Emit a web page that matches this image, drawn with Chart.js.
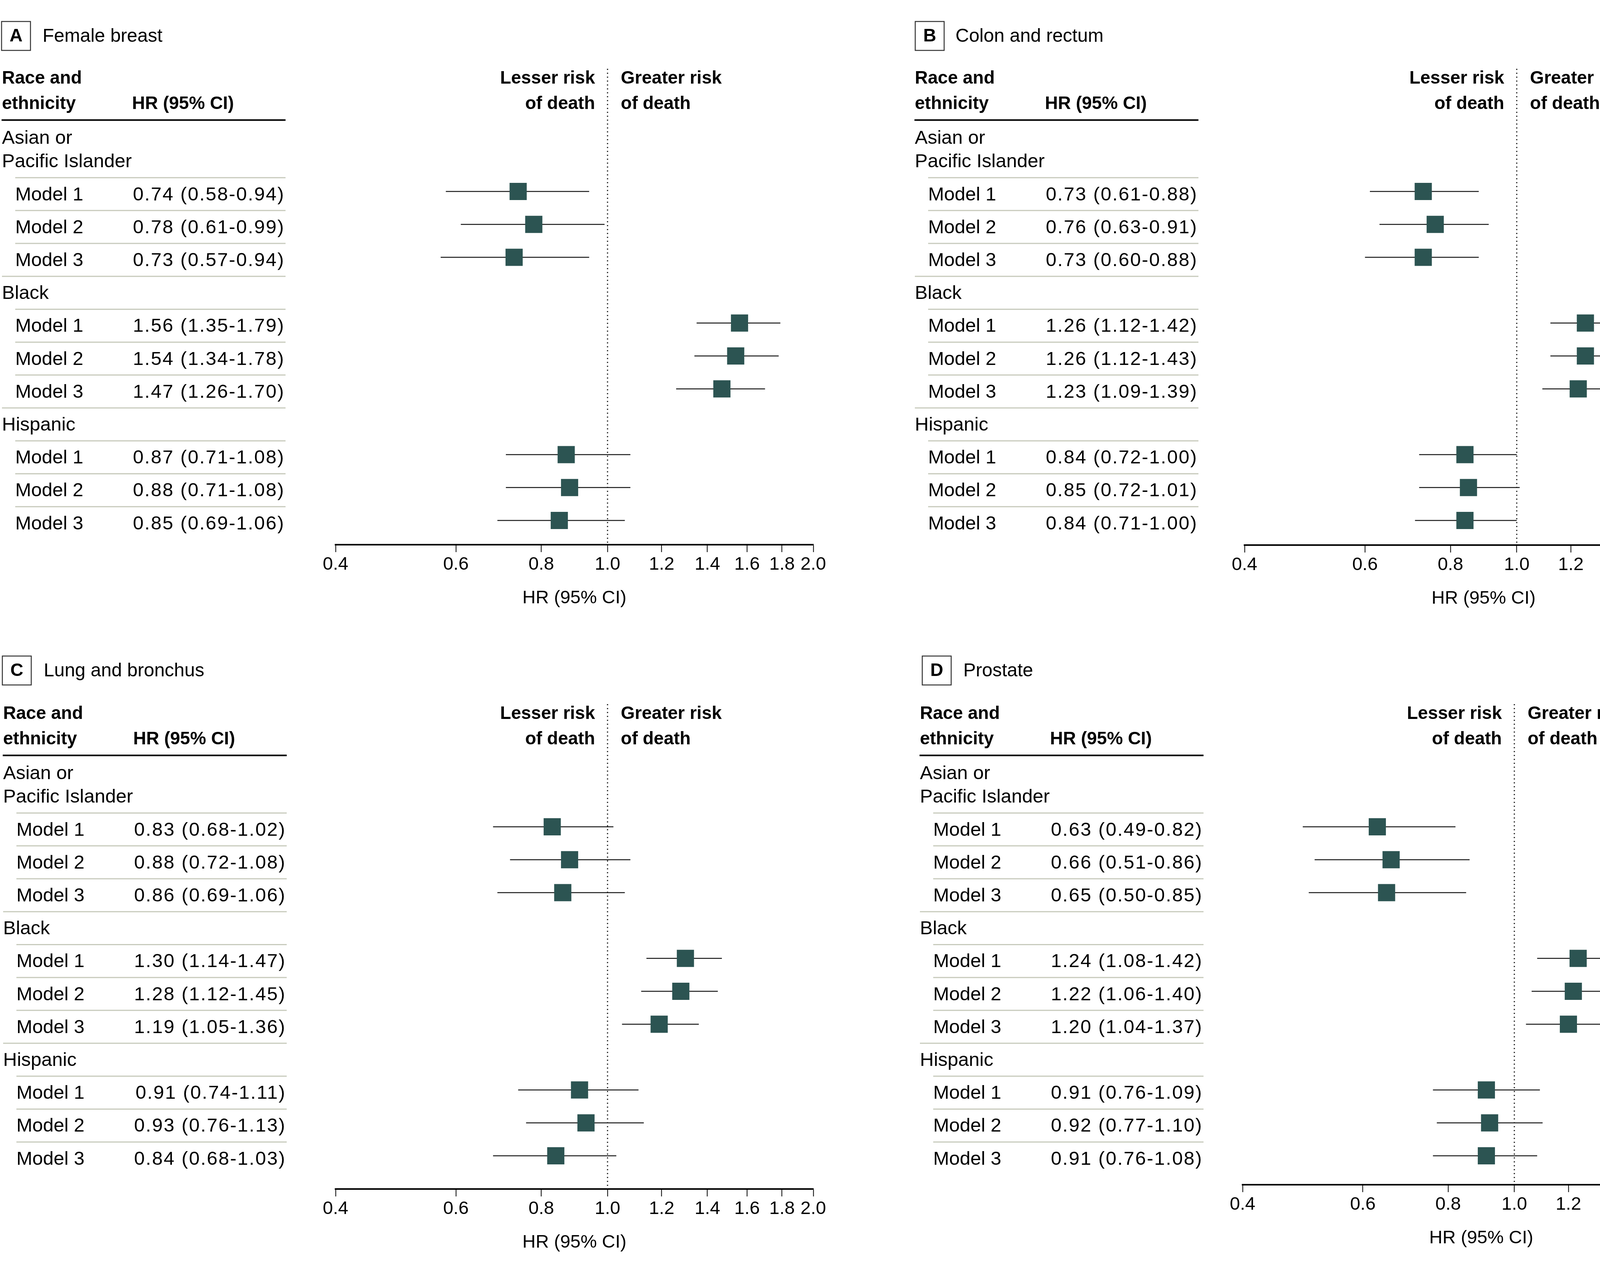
<!DOCTYPE html>
<html>
<head>
<meta charset="utf-8">
<script src="https://cdn.jsdelivr.net/npm/chart.js@4.4.1/dist/chart.umd.min.js"></script>
<style>
  html, body { margin: 0; padding: 0; background: #fff; }
  body { width: 5500px; height: 3281px; position: relative; overflow: hidden; }
  .panel { position: absolute; }
</style>
</head>
<body>
<div class="panel" style="left:0;top:0;width:2300px;height:1640px"><canvas id="chartA"></canvas></div>
<div class="panel" style="left:2300px;top:0;width:3200px;height:1640px"><canvas id="chartB"></canvas></div>
<div class="panel" style="left:0;top:1640px;width:2300px;height:1641px"><canvas id="chartC"></canvas></div>
<div class="panel" style="left:2300px;top:1640px;width:3200px;height:1641px"><canvas id="chartD"></canvas></div>
<script>
// ---- data ----
const groups = [["Asian or", "Pacific Islander"], ["Black"], ["Hispanic"]];
const models = ["Model 1", "Model 2", "Model 3"];
const xTicks = [0.4, 0.6, 0.8, 1.0, 1.2, 1.4, 1.6, 1.8, 2.0];
const headerLeft = ["Race and", "ethnicity"];
const headerHR = "HR (95% CI)";
const lesserLabel = ["Lesser risk", "of death"];
const greaterLabel = ["Greater risk", "of death"];
const axisTitle = "HR (95% CI)";

const breastHR   = [0.74, 0.78, 0.73, 1.56, 1.54, 1.47, 0.87, 0.88, 0.85];
const breastLow  = [0.58, 0.61, 0.57, 1.35, 1.34, 1.26, 0.71, 0.71, 0.69];
const breastHigh = [0.94, 0.99, 0.94, 1.79, 1.78, 1.70, 1.08, 1.08, 1.06];

const colonHR   = [0.73, 0.76, 0.73, 1.26, 1.26, 1.23, 0.84, 0.85, 0.84];
const colonLow  = [0.61, 0.63, 0.60, 1.12, 1.12, 1.09, 0.72, 0.72, 0.71];
const colonHigh = [0.88, 0.91, 0.88, 1.42, 1.43, 1.39, 1.00, 1.01, 1.00];

const lungHR   = [0.83, 0.88, 0.86, 1.30, 1.28, 1.19, 0.91, 0.93, 0.84];
const lungLow  = [0.68, 0.72, 0.69, 1.14, 1.12, 1.05, 0.74, 0.76, 0.68];
const lungHigh = [1.02, 1.08, 1.06, 1.47, 1.45, 1.36, 1.11, 1.13, 1.03];

const prostateHR   = [0.63, 0.66, 0.65, 1.24, 1.22, 1.20, 0.91, 0.92, 0.91];
const prostateLow  = [0.49, 0.51, 0.50, 1.08, 1.06, 1.04, 0.76, 0.77, 0.76];
const prostateHigh = [0.82, 0.86, 0.85, 1.42, 1.40, 1.37, 1.09, 1.10, 1.08];

// ---- layout (page pixels) ----
const PITCH = 84.2;      // row height
const TOP_GAP = 314;     // dotted line starts this far above first row
const AXIS_BOX = 165;    // height of x axis box
const SQUARE = "#2c5452";
const FONT = '"Liberation Sans", Arial, sans-serif';

const panels = [
  { canvas: "chartA", letter: "A", title: "Female breast", hr: breastHR, lo: breastLow, hi: breastHigh,
    left: 0, top: 0, w: 2300, h: 1640, boxX: 4, boxY: 55, titleX: 109, tableX: 4,
    axisL: 859, axisR: 2082, axisY: 1394, row0: 490 },
  { canvas: "chartB", letter: "B", title: "Colon and rectum", hr: colonHR, lo: colonLow, hi: colonHigh,
    left: 2300, top: 0, w: 3200, h: 1640, boxX: 2343, boxY: 55, titleX: 2446, tableX: 2341,
    axisL: 3186, axisR: 4410, axisY: 1395, row0: 490 },
  { canvas: "chartC", letter: "C", title: "Lung and bronchus", hr: lungHR, lo: lungLow, hi: lungHigh,
    left: 0, top: 1640, w: 2300, h: 1641, boxX: 6, boxY: 1679, titleX: 112, tableX: 7,
    axisL: 859, axisR: 2082, axisY: 3043, row0: 2116 },
  { canvas: "chartD", letter: "D", title: "Prostate", hr: prostateHR, lo: prostateLow, hi: prostateHigh,
    left: 2300, top: 1640, w: 3200, h: 1641, boxX: 2361, boxY: 1679, titleX: 2466, tableX: 2354,
    axisL: 3181, axisR: 4403, axisY: 3032, row0: 2116 }
];

// data index k -> row on the y scale (group headers sit on rows -1, 3, 7)
const rowOf = k => Math.floor(k / 3) * 4 + (k % 3);
const fmt = v => v.toFixed(2);

function makeTablePlugin(p) {
  return {
    id: "forestTable" + p.letter,
    beforeDatasetsDraw(chart) {
      // dotted reference line at HR = 1
      const { ctx, chartArea, scales: { x } } = chart;
      const px = x.getPixelForValue(1);
      ctx.save();
      ctx.strokeStyle = "#222";
      ctx.lineWidth = 3;
      ctx.setLineDash([3, 7]);
      ctx.beginPath();
      ctx.moveTo(px, chartArea.top);
      ctx.lineTo(px, chartArea.bottom);
      ctx.stroke();
      ctx.restore();
    },
    afterDraw(chart) {
      const { ctx, scales: { x, y } } = chart;
      const ox = -p.left, oy = -p.top;
      const rowY = v => y.getPixelForValue(v);
      const tx = p.tableX + ox;
      const x1 = x.getPixelForValue(1);

      ctx.save();
      ctx.textBaseline = "middle";
      ctx.fillStyle = "#000";

      // panel letter + title
      ctx.strokeStyle = "#333";
      ctx.lineWidth = 2.5;
      ctx.strokeRect(p.boxX + ox, p.boxY + oy, 74, 74);
      ctx.font = "bold 46px " + FONT;
      ctx.textAlign = "center";
      ctx.fillText(p.letter, p.boxX + ox + 37, p.boxY + oy + 38);
      ctx.font = "48px " + FONT;
      ctx.textAlign = "left";
      ctx.fillText(p.title, p.titleX + ox, p.boxY + oy + 39);

      // column headers
      ctx.font = "bold 46px " + FONT;
      ctx.fillText(headerLeft[0], tx + 1, rowY(-3.43));
      ctx.fillText(headerLeft[1], tx + 1, rowY(-2.66));
      ctx.fillText(headerHR, tx + 334, rowY(-2.66));
      ctx.textAlign = "right";
      ctx.fillText(lesserLabel[0], x1 - 32, rowY(-3.43));
      ctx.fillText(lesserLabel[1], x1 - 32, rowY(-2.66));
      ctx.textAlign = "left";
      ctx.fillText(greaterLabel[0], x1 + 34, rowY(-3.43));
      ctx.fillText(greaterLabel[1], x1 + 34, rowY(-2.66));

      // thick rule under header
      ctx.fillRect(tx, rowY(-2.17) - 2, 727, 4);

      // separator lines
      ctx.strokeStyle = "#c8cbbd";
      ctx.lineWidth = 3;
      for (let r = -1; r < 10; r++) {
        const full = (r === 2 || r === 6);
        const ly = rowY(r + 0.58);
        ctx.beginPath();
        ctx.moveTo(tx + (full ? 1 : 35), ly);
        ctx.lineTo(tx + 727, ly);
        ctx.stroke();
      }

      // group labels
      ctx.font = "49px " + FONT;
      ctx.textAlign = "left";
      groups.forEach((lines, g) => {
        const r = g * 4 - 1;
        lines.forEach((t, j) => {
          const back = lines.length - 1 - j;
          ctx.fillText(t, tx + 1, rowY(r + 0.108 - back * 0.712));
        });
      });

      // model rows and HR text
      p.hr.forEach((v, k) => {
        const r = rowOf(k);
        ctx.textAlign = "left";
        ctx.letterSpacing = "0px";
        ctx.fillText(models[k % 3], tx + 35, rowY(r + 0.108));
        ctx.textAlign = "right";
        ctx.letterSpacing = "2.5px";
        ctx.fillText(`${fmt(v)} (${fmt(p.lo[k])}-${fmt(p.hi[k])})`, tx + 725, rowY(r + 0.108));
      });
      ctx.restore();
    }
  };
}

function renderPanel(p) {
  const ciSets = p.hr.map((v, k) => ({
    data: [{ x: p.lo[k], y: rowOf(k) }, { x: p.hi[k], y: rowOf(k) }],
    showLine: true,
    borderColor: "#1a1a1a",
    borderWidth: 2.5,
    pointRadius: 0,
    pointHoverRadius: 0,
    order: 2
  }));
  const squares = {
    data: p.hr.map((v, k) => ({ x: v, y: rowOf(k) })),
    pointStyle: "rect",
    pointRadius: 31.1,
    pointHoverRadius: 31.1,
    backgroundColor: SQUARE,
    borderWidth: 0,
    order: 1
  };

  new Chart(document.getElementById(p.canvas), {
    type: "scatter",
    data: { datasets: [...ciSets, squares] },
    plugins: [makeTablePlugin(p)],
    options: {
      responsive: true,
      maintainAspectRatio: false,
      animation: false,
      devicePixelRatio: 1,
      events: [],
      layout: {
        padding: {
          left: p.axisL - p.left,
          right: p.w - (p.axisR - p.left),
          top: p.row0 - TOP_GAP - p.top,
          bottom: p.h - (p.axisY - p.top) - AXIS_BOX
        }
      },
      plugins: { legend: { display: false }, tooltip: { enabled: false } },
      scales: {
        x: {
          type: "logarithmic",
          min: 0.4,
          max: 2.0,
          bounds: "data",
          afterBuildTicks: s => { s.ticks = xTicks.map(v => ({ value: v })); },
          afterFit: s => { s.height = AXIS_BOX; },
          ticks: {
            autoSkip: false,
            maxRotation: 0,
            minRotation: 0,
            padding: 4,
            color: "#000",
            font: { family: FONT, size: 47 },
            callback: v => Number(v).toFixed(1)
          },
          grid: {
            drawOnChartArea: false,
            drawTicks: true,
            tickLength: 19,
            tickWidth: 2,
            tickColor: "#000"
          },
          border: { display: true, color: "#000", width: 4 },
          title: {
            display: true,
            text: axisTitle,
            color: "#000",
            font: { family: FONT, size: 47 },
            padding: { top: 0, bottom: 0 }
          }
        },
        y: {
          type: "linear",
          display: false,
          reverse: true,
          bounds: "data",
          min: -TOP_GAP / PITCH,
          max: (p.axisY - p.row0) / PITCH
        }
      }
    }
  });
}

panels.forEach(renderPanel);
</script>
</body>
</html>
